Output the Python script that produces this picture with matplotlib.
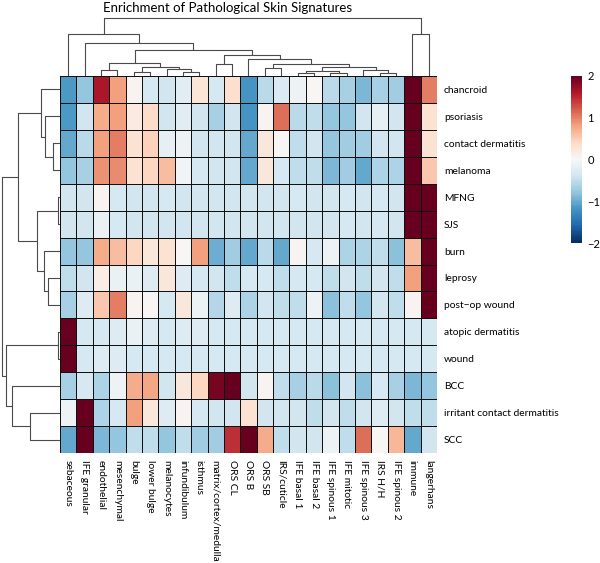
import numpy as np
import matplotlib
matplotlib.use("Agg")
import matplotlib.pyplot as plt

plt.rcParams['font.family'] = ['Lato', 'DejaVu Sans']

title = "Enrichment of Pathological Skin Signatures"

col_labels = ["sebaceous", "IFE granular", "endothelial", "mesenchymal", "bulge",
              "lower bulge", "melanocytes", "infundibulum", "isthmus",
              "matrix/cortex/medulla", "ORS CL", "ORS B", "ORS SB", "IRS/cuticle",
              "IFE basal 1", "IFE basal 2", "IFE spinous 1", "IFE mitotic",
              "IFE spinous 3", "IRS H/H", "IFE spinous 2", "immune", "langerhans"]

row_labels = ["chancroid", "psoriasis", "contact dermatitis", "melanoma", "MFNG", "SJS",
              "burn", "leprosy", "post\u2212op wound", "atopic dermatitis", "wound", "BCC",
              "irritant contact dermatitis", "SCC"]

# enrichment scores, rows in the order above
chancroid = [-1.15, -0.8, 1.6, 0.8, 0.04, -0.33, -0.4, -0.22, 0.25, -0.33, 0.35,
             -1.2, -0.55, -0.3, -0.12, 0.0, -0.55, -0.65, -0.92, -0.65, -0.72, 2.0, 1.0]
psoriasis = [-1.15, -0.4, 0.72, 0.8, 0.18, 0.38, -0.4, -0.22, -0.4, -0.66, -0.4,
             -1.2, 0.05, 1.1, -0.55, -0.5, -0.8, -0.77, -0.4, -0.2, -0.4, 2.0, 0.28]
contact_dermatitis = [-1.02, -0.55, 0.8, 1.0, 0.32, 0.45, -0.2, -0.1, -0.4, -0.4, -0.4,
                      -1.02, 0.2, 0.0, -0.52, -0.4, -0.8, -0.68, -0.72, -0.4, -0.4, 2.0, 0.3]
melanoma = [-0.8, -0.66, 0.9, 0.92, 0.3, 0.43, 0.62, -0.08, -0.33, -0.4, -0.4,
            -1.02, 0.2, -0.33, -0.52, -0.52, -0.92, -0.72, -1.02, -0.62, -0.62, 2.0, 0.55]
mfng = [-0.4, -0.38, 0.04, -0.33, -0.38, -0.4, -0.36, -0.38, -0.4, -0.4, -0.4,
        -0.37, -0.37, -0.38, -0.36, -0.37, -0.38, -0.36, -0.38, -0.33, -0.37, 2.0, 2.0]
sjs = [-0.37, -0.37, -0.15, -0.33, -0.4, -0.4, -0.38, -0.4, -0.4, -0.38, -0.4,
       -0.38, -0.38, -0.38, -0.38, -0.38, -0.38, -0.36, -0.38, -0.36, -0.38, 2.0, 2.0]
burn = [-0.8, -0.8, 0.73, 0.63, 0.4, 0.2, 0.32, 0.0, 0.8, -0.97, -0.68,
        -1.02, -0.55, -1.02, 0.06, -0.33, -0.1, -0.62, -0.62, -0.52, -0.82, 0.63, 2.0]
leprosy = [-0.52, -0.4, 0.15, -0.15, -0.15, -0.25, 0.2, -0.25, -0.33, -0.4, -0.52,
           -0.33, -0.33, -0.5, -0.33, -0.33, -0.52, -0.4, -0.52, -0.4, -0.52, 0.8, 2.0]
post_op_wound = [-0.66, -0.25, 0.52, 1.03, 0.04, 0.0, -0.33, 0.2, -0.1, -0.6, -0.25,
                 -0.62, -0.4, -0.52, -0.52, -0.1, -0.82, -0.52, -0.8, -0.4, -0.52, 0.04, 2.0]
atopic_dermatitis = [2.0, -0.33, -0.33, -0.25, -0.15, -0.25, -0.33, -0.25, -0.25, -0.33, -0.33,
                     -0.33, -0.33, -0.33, -0.33, -0.33, -0.33, -0.33, -0.33, -0.33, -0.33, -0.33, -0.33]
wound = [2.0, -0.33, -0.25, -0.25, -0.33, -0.36, -0.36, -0.33, -0.33, -0.36, -0.33,
         -0.33, -0.33, -0.33, -0.33, -0.33, -0.33, -0.33, -0.33, -0.33, -0.33, -0.33, -0.33]
bcc = [-0.66, -0.33, -0.62, -0.1, 0.73, 0.77, -0.4, 0.2, 0.4, 1.9, 2.0,
       -0.4, 0.06, -0.52, -0.66, -0.55, -0.82, -0.4, -0.82, -0.33, -0.66, -0.92, -0.8]
irritant_contact_dermatitis = [-0.1, 2.0, -0.62, -0.33, 0.8, 0.2, -0.25, 0.04, -0.33, -0.4, -0.4,
                               0.3, -0.4, -0.4, -0.4, -0.52, -0.4, -0.52, -0.4, -0.25, -0.4, -0.52, -0.52]
scc = [-1.02, 2.0, -0.92, -0.8, -0.52, -0.52, -0.8, -0.52, -0.72, -0.72, 1.45,
       2.0, 0.73, -0.52, -0.4, -0.4, -0.1, -0.52, 1.1, 0.0, 0.65, -1.02, -0.4]

# hierarchical clustering merges (scipy-style ids: leaves first, then new nodes)
col_merges = [(4, 5, 4.0), (7, 8, 4.3), (6, 24, 6.7), (23, 25, 9.0), (2, 3, 5.7),
              (27, 26, 13.3), (9, 10, 12.0), (12, 13, 8.3), (14, 15, 2.7), (16, 17, 3.3),
              (31, 32, 5.0), (19, 20, 3.3), (18, 34, 6.0), (33, 35, 8.7), (30, 36, 12.0),
              (11, 37, 17.0), (29, 38, 21.3), (28, 39, 26.0), (1, 40, 33.3), (0, 41, 42.0),
              (21, 22, 42.0), (42, 43, 57.7)]
row_merges = [(2, 3, 7.3), (1, 14, 15.0), (0, 15, 18.7), (4, 5, 1.7), (7, 8, 11.7),
              (6, 18, 16.0), (17, 19, 22.7), (16, 20, 41.7), (9, 10, 1.7), (12, 13, 30.0),
              (11, 23, 48.3), (22, 24, 54.0), (21, 25, 58.3)]

data = np.array([chancroid, psoriasis, contact_dermatitis, melanoma, mfng, sjs, burn,
                 leprosy, post_op_wound, atopic_dermatitis, wound, bcc,
                 irritant_contact_dermatitis, scc])
n_rows, n_cols = data.shape


def dendro_segments(merges, n_leaves):
    pos = {i: i + 0.5 for i in range(n_leaves)}
    hgt = {i: 0.0 for i in range(n_leaves)}
    segs = []
    for k, (a, b, h) in enumerate(merges):
        node = n_leaves + k
        segs.append(([pos[a], pos[a], pos[b], pos[b]], [hgt[a], h, h, hgt[b]]))
        pos[node] = (pos[a] + pos[b]) / 2
        hgt[node] = h
    return segs


W, H = 600, 563
fig = plt.figure(figsize=(W / 100, H / 100), dpi=100)


def px_axes(x0, y0, x1, y1):
    return fig.add_axes([x0 / W, 1 - y1 / H, (x1 - x0) / W, (y1 - y0) / H])


hm_l, hm_r, hm_t, hm_b = 60, 437, 76, 453
cmap = plt.get_cmap('RdBu_r', 100)

ax = px_axes(hm_l, hm_t, hm_r, hm_b)
mesh = ax.pcolormesh(data, cmap=cmap, vmin=-2, vmax=2,
                     edgecolors='#111111', linewidth=0.6)
ax.set_xlim(0, n_cols)
ax.set_ylim(n_rows, 0)
ax.set_xticks(np.arange(n_cols) + 0.5)
ax.set_xticklabels(col_labels, rotation=270, fontsize=7.4)
ax.yaxis.tick_right()
ax.set_yticks(np.arange(n_rows) + 0.5)
ax.set_yticklabels(row_labels, fontsize=7.4)
ax.tick_params(length=0, pad=5)
for s in ax.spines.values():
    s.set_visible(False)

# column dendrogram
ax_top = px_axes(hm_l, hm_t - 60, hm_r, hm_t)
for xs, ys in dendro_segments(col_merges, n_cols):
    ax_top.plot(xs, ys, color='#4a4a4a', lw=0.8, solid_capstyle='butt')
ax_top.set_xlim(0, n_cols)
ax_top.set_ylim(0, 60)
ax_top.axis('off')

# row dendrogram
ax_left = px_axes(0, hm_t, hm_l, hm_b)
for ys, xs in dendro_segments(row_merges, n_rows):
    ax_left.plot(xs, ys, color='#4a4a4a', lw=0.8, solid_capstyle='butt')
ax_left.set_xlim(60, 0)
ax_left.set_ylim(n_rows, 0)
ax_left.axis('off')

# colour key
cax = px_axes(571, 76, 582, 243)
cb = fig.colorbar(mesh, cax=cax, ticks=[-2, -1, 0, 1, 2])
cb.outline.set_visible(False)
cb.ax.tick_params(length=0, pad=4, labelsize=8)

fig.text(227.5 / W, 1 - 2 / H, title, ha='center', va='top', fontsize=9.5)

fig.savefig("out.png", dpi=100)
